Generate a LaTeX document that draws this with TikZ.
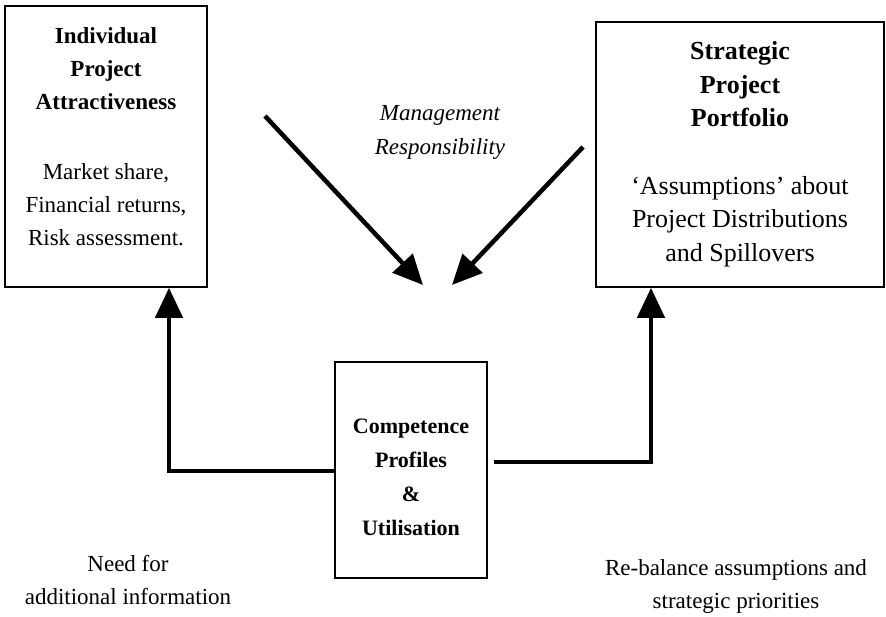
\documentclass[tikz,border=0pt]{standalone}
\usepackage{fontspec}
\setmainfont{Liberation Serif}
\usetikzlibrary{arrows.meta,calc}
\tikzset{
  boxshape/.style={draw,line width=1.6pt,inner sep=0pt},
  txt/.style={align=center,inner sep=0pt,font=\fontsize{23}{33}\selectfont},
  conn/.style={line width=4.5pt,-{Triangle[length=30pt 0,width=27pt 0]}},
}
\begin{document}
\begin{tikzpicture}[x=1pt,y=-1pt]
\useasboundingbox (0,0) rectangle (886,616);
% boxes
\node[boxshape,minimum width=202pt,minimum height=281pt] (lbox) at (106,146.5) {};
\node[boxshape,minimum width=288pt,minimum height=265pt] (rbox) at (740,154.5) {};
\node[boxshape,minimum width=152pt,minimum height=216pt] (mid) at (411,470) {};
% box texts
\node[txt] (ltxt) at (106,137) {\textbf{Individual}\\\textbf{Project}\\\textbf{Attractiveness}\\[37pt]Market share,\\Financial returns,\\Risk assessment.};
\node[txt,font=\fontsize{26}{33.5}\selectfont] (rtxt) at (740,154) {\textbf{Strategic}\\\textbf{Project}\\\textbf{Portfolio}\\[34pt]`Assumptions' about\\Project Distributions\\and Spillovers};
\node[txt,font=\fontsize{22}{34}\selectfont\bfseries] (mtxt) at (411,477) {Competence\\Profiles\\\&\\Utilisation};
% free labels
\node[txt,font=\fontsize{23}{34}\selectfont\itshape] (mgmt) at (440,132) {Management\\Responsibility};
\node[txt] (need) at (128,580) {Need for\\additional information};
\node[txt] (rebal) at (736,586) {Re-balance assumptions and\\strategic priorities};
% diagonal arrows
\coordinate (d1s) at (265,116);
\coordinate (d1e) at (423,285);
\coordinate (d2s) at (583,147);
\coordinate (d2e) at (452,285);
\draw[conn] (d1s) -- (d1e);
\draw[conn] (d2s) -- (d2e);
% feedback connectors
\draw[conn] ([yshift=-1pt]mid.west) -| ([xshift=63pt]lbox.south);
\draw[conn] ([xshift=6pt,yshift=8pt]mid.east) -| ([xshift=-89pt]rbox.south);
\end{tikzpicture}
\end{document}
